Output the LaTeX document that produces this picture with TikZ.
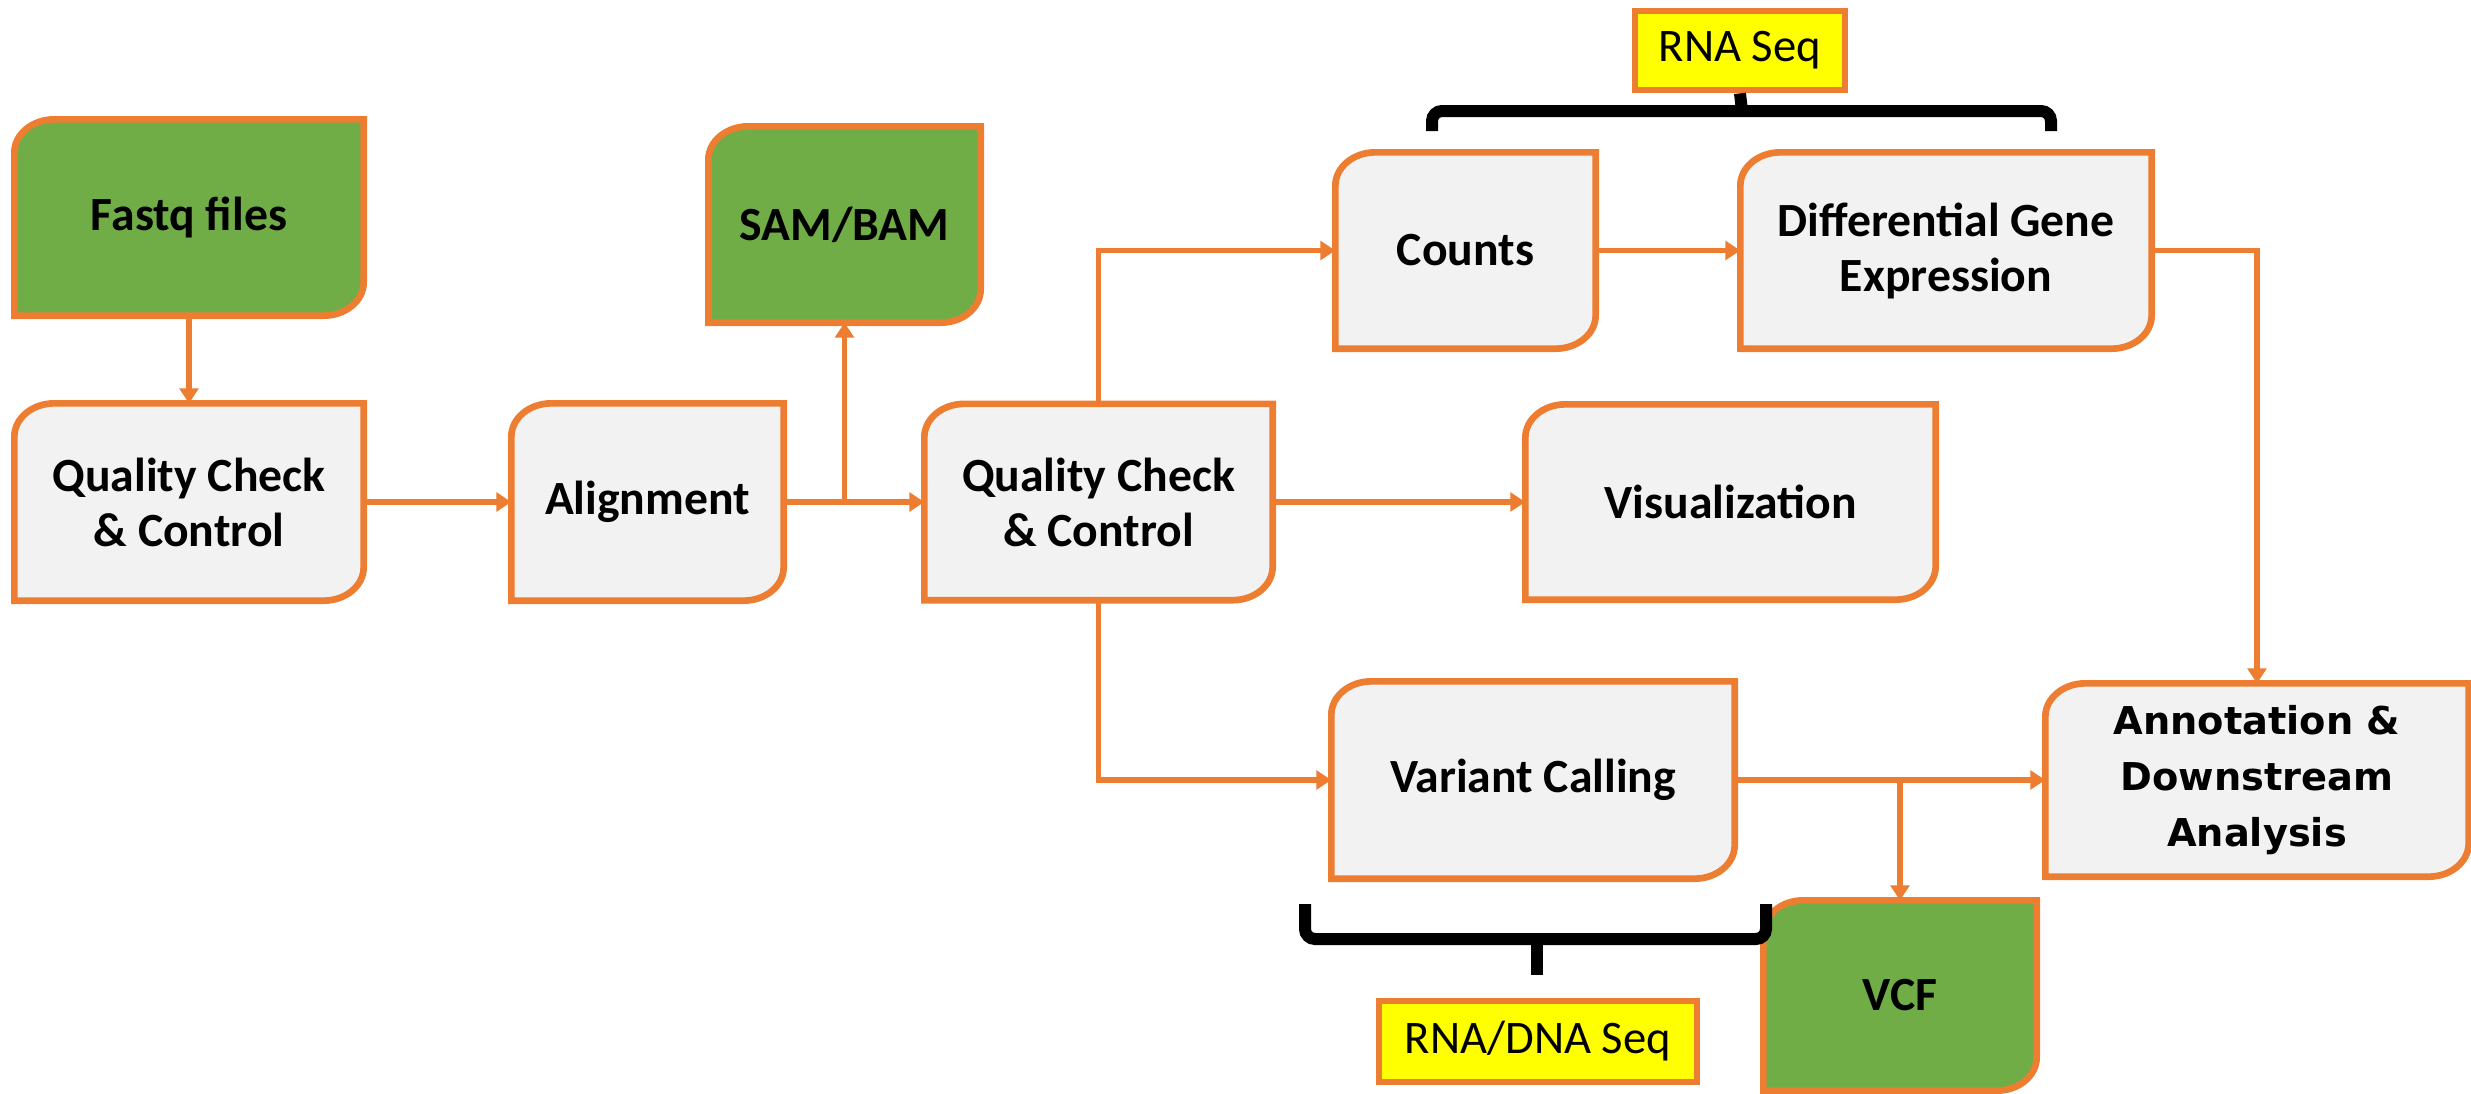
\documentclass[tikz,border=0pt]{standalone}
\usepackage{fontspec}
\setmainfont{Carlito}
\newfontfamily\annotfont{DejaVu Sans}
\usetikzlibrary{arrows.meta,backgrounds}

\definecolor{lineorange}{RGB}{237,125,49}
\definecolor{datagreen}{RGB}{112,173,71}
\definecolor{stepgray}{RGB}{242,242,242}
\definecolor{tagyellow}{RGB}{255,255,0}

\tikzset{
  stepbox/.style={rectangle, inner sep=0pt, align=center, font=\bfseries\fontsize{14.3}{16.5}\selectfont},
  boxline/.style={draw=lineorange, line width=2pt},
  flow/.style={draw=lineorange, line width=1.7pt, -{Triangle[length=4.5pt,width=5.6pt]}},
  tagbox/.style={rectangle, draw=lineorange, line width=2pt, fill=tagyellow, inner sep=0pt, font=\fontsize{14}{16}\selectfont},
  bracket/.style={draw=black, line width=3.6pt, rounded corners=3pt},
}

\begin{document}
\begin{tikzpicture}[x=0.3pt,y=-0.3pt]
  \useasboundingbox (0,0) rectangle (2471,1093);

  %Steps
  \node[stepbox, minimum width=104.4pt, minimum height=58.5pt] (fastq) at (189,217.5) {Fastq files};
  \node[stepbox, minimum width=104.4pt, minimum height=58.8pt] (qc1) at (189,502) {Quality Check\\\& Control};
  \node[stepbox, minimum width=81.3pt, minimum height=58.8pt] (align) at (647.5,502) {Alignment};
  \node[stepbox, minimum width=81.3pt, minimum height=58.5pt] (sambam) at (844.5,224.5) {SAM/BAM};
  \node[stepbox, minimum width=104.1pt, minimum height=58.5pt] (qc2) at (1098.5,502) {Quality Check\\\& Control};
  \node[stepbox, minimum width=77.7pt, minimum height=58.5pt] (counts) at (1465.5,250.5) {Counts};
  \node[stepbox, minimum width=123pt, minimum height=58.5pt] (dge) at (1946,250.5) {Differential Gene\\Expression};
  \node[stepbox, minimum width=122.7pt, minimum height=58.2pt] (vis) at (1730.5,502) {Visualization};
  \node[stepbox, minimum width=120.6pt, minimum height=58.8pt] (variant) at (1533,780) {Variant Calling};
  \node[stepbox, minimum width=126.6pt, minimum height=57.6pt, font=\annotfont\bfseries\fontsize{11.5}{16.8}\selectfont] (annot) at (2257,780) {Annotation \&\\Downstream\\Analysis};
  \node[stepbox, minimum width=81.6pt, minimum height=56.7pt] (vcf) at (1900,995.5) {VCF};

  %Tags
  \node[tagbox, minimum width=63pt, minimum height=23.7pt] (rnaseq) at (1740,50.5) {RNA Seq};
  \node[tagbox, minimum width=95.4pt, minimum height=24.3pt] (rnadna) at (1538,1041.5) {RNA/DNA Seq};

  %Box outlines
  \begin{scope}[on background layer]
    \foreach \b/\c in {fastq/datagreen, sambam/datagreen, vcf/datagreen, qc1/stepgray, align/stepgray,
                       qc2/stepgray, counts/stepgray, dge/stepgray, vis/stepgray, variant/stepgray, annot/stepgray}
      \draw[boxline, fill=\c] (\b.south west) -- ([yshift=-10pt]\b.north west)
        arc[start angle=180, end angle=90, x radius=12pt, y radius=10pt]
        -- (\b.north east) -- ([yshift=10pt]\b.south east)
        arc[start angle=0, end angle=-90, x radius=12pt, y radius=10pt] -- cycle;
  \end{scope}

  %Brackets
  \draw[bracket] (1432,131) -- (1432,111) -- (2051,111) -- (2051,131);
  \draw[bracket] (1742,111) -- (rnaseq.south);
  \draw[bracket] (1305,904) -- (1305,939) -- (1766,939) -- (1766,904);
  \draw[bracket] (1537,939) -- (1537,975);

  %Arrows
  \draw[flow] (fastq.south) -- (qc1.north);
  \draw[flow] (qc1.east) -- (align.west);
  \draw[flow] (align.east) -- (qc2.west);
  \draw[flow] (align.east -| sambam.south) -- (sambam.south);
  \draw[flow] (qc2.north) |- (counts.west);
  \draw[flow] (qc2.east) -- (vis.west);
  \draw[flow] (qc2.south) |- (variant.west);
  \draw[flow] (counts.east) -- (dge.west);
  \draw[flow] (dge.east) -| (annot.north);
  \draw[flow] (variant.east) -- (annot.west);
  \draw[flow] (variant.east -| vcf.north) -- (vcf.north);
\end{tikzpicture}
\end{document}
